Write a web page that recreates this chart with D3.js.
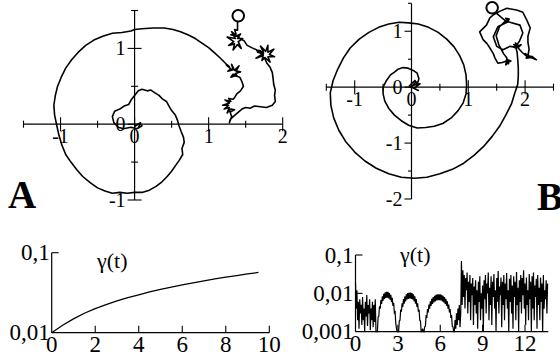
<!DOCTYPE html>
<html>
<head>
<meta charset="utf-8">
<script src="https://cdn.jsdelivr.net/npm/d3@7"></script>
<style>
  body { margin: 0; background: #fff; }
  svg { display: block; }
</style>
</head>
<body>
<svg id="fig" width="560" height="361"></svg>
<script>
// ---- Trajectory A: slow spiral with bursts near the end (x, y) ----
const trajA = [
  [0.00,-0.03],[0.08,0.02],[0.05,-0.05],[0.10,-0.02],[0.03,-0.06],[-0.05,-0.04],[-0.15,-0.06],
  [-0.22,-0.04],[-0.28,0.02],[-0.30,0.10],[-0.27,0.17],[-0.20,0.20],[-0.14,0.24],[-0.08,0.26],
  [-0.04,0.33],[0.00,0.38],[0.05,0.44],[0.10,0.46],[0.17,0.44],[0.22,0.45],[0.28,0.41],[0.33,0.38],
  [0.38,0.33],[0.43,0.30],[0.47,0.23],[0.50,0.18],[0.55,0.12],[0.58,0.05],[0.60,-0.02],[0.63,-0.10],
  [0.66,-0.17],[0.67,-0.24],[0.64,-0.32],[0.65,-0.40],[0.60,-0.48],[0.55,-0.55],[0.50,-0.62],
  [0.44,-0.69],[0.37,-0.76],[0.29,-0.82],[0.20,-0.87],[0.10,-0.90],[0.00,-0.90],[-0.10,-0.91],
  [-0.20,-0.90],[-0.30,-0.91],[-0.40,-0.88],[-0.50,-0.84],[-0.60,-0.77],[-0.70,-0.69],[-0.78,-0.60],
  [-0.86,-0.50],[-0.93,-0.40],[-0.98,-0.28],[-1.02,-0.15],[-1.05,-0.02],[-1.08,0.12],[-1.09,0.25],
  [-1.07,0.38],[-1.04,0.50],[-0.99,0.62],[-0.93,0.74],[-0.85,0.85],[-0.76,0.95],[-0.66,1.04],
  [-0.55,1.11],[-0.43,1.16],[-0.30,1.20],[-0.17,1.21],[-0.05,1.23],[0.00,1.25],[0.10,1.26],
  [0.25,1.27],[0.40,1.27],[0.52,1.25],[0.62,1.22],[0.72,1.18],[0.82,1.13],[0.91,1.07],[1.00,1.01],
  [1.08,0.94],[1.16,0.87],[1.23,0.80],
  [1.28,0.76],[1.24,0.78],[1.30,0.73],[1.26,0.70],[1.33,0.72],[1.31,0.79],[1.35,0.71],[1.41,0.77],
  [1.37,0.70],[1.43,0.69],[1.36,0.67],[1.39,0.63],[1.33,0.66],[1.30,0.62],[1.36,0.64],[1.42,0.62],
  [1.45,0.56],[1.47,0.50],[1.43,0.44],[1.38,0.40],[1.35,0.35],
  [1.33,0.33],[1.27,0.34],[1.30,0.30],[1.22,0.32],[1.28,0.28],[1.19,0.25],[1.27,0.25],[1.21,0.20],
  [1.28,0.22],[1.25,0.15],[1.30,0.20],[1.35,0.19],[1.29,0.16],[1.31,0.10],[1.28,0.02],[1.29,0.06],
  [1.33,0.10],[1.39,0.15],[1.45,0.20],[1.50,0.22],[1.56,0.21],[1.62,0.24],[1.70,0.23],[1.78,0.22],
  [1.86,0.25],[1.90,0.30],[1.89,0.38],[1.90,0.45],[1.88,0.52],[1.87,0.60],[1.86,0.68],[1.83,0.75],
  [1.79,0.80],[1.76,0.86],
  [1.72,0.90],[1.64,0.87],[1.72,0.92],[1.65,0.97],[1.74,0.95],[1.70,1.03],[1.77,0.96],[1.80,1.04],
  [1.80,0.95],[1.88,0.99],[1.82,0.92],[1.89,0.89],[1.80,0.89],[1.83,0.82],[1.76,0.88],[1.72,0.84],
  [1.74,0.93],[1.66,0.95],[1.70,0.97],
  [1.65,0.98],[1.58,1.01],[1.52,1.04],[1.48,1.10],[1.44,1.12],
  [1.40,1.15],[1.31,1.22],[1.36,1.13],[1.25,1.15],[1.34,1.09],[1.27,1.04],[1.35,1.06],[1.33,0.98],
  [1.39,1.05],[1.44,1.00],[1.40,1.09],[1.46,1.13],[1.39,1.13],[1.43,1.19],[1.37,1.16],[1.30,1.18],
  [1.37,1.19],[1.35,1.25],[1.39,1.24],[1.39,1.30],[1.39,1.36]
];
const endA = [1.40, 1.43];

// ---- Trajectory B: two-turn spiral ending in a tangle (x, y) ----
const trajB = [
  [0.00,0.00],[0.08,0.10],[0.02,0.03],[0.15,0.06],[0.04,-0.02],[0.12,-0.06],[-0.04,0.02],
  [0.06,0.12],[0.10,0.05],[0.13,0.15],[0.10,0.25],[0.03,0.30],[-0.06,0.34],[-0.15,0.35],
  [-0.24,0.32],[-0.30,0.27],[-0.37,0.22],[-0.44,0.12],[-0.50,0.00],[-0.50,-0.12],[-0.47,-0.25],
  [-0.40,-0.38],[-0.30,-0.50],[-0.18,-0.60],[-0.05,-0.68],[0.10,-0.73],[0.25,-0.72],[0.40,-0.70],
  [0.55,-0.65],[0.70,-0.55],[0.82,-0.42],[0.91,-0.28],[0.96,-0.12],[0.97,0.05],[0.96,0.22],
  [0.92,0.40],[0.85,0.56],[0.75,0.72],[0.62,0.86],[0.47,0.98],[0.30,1.07],[0.12,1.13],[-0.05,1.15],
  [-0.22,1.16],[-0.40,1.13],[-0.58,1.07],[-0.75,0.98],[-0.92,0.86],[-1.08,0.70],[-1.20,0.52],
  [-1.30,0.32],[-1.38,0.12],[-1.43,-0.10],[-1.42,-0.32],[-1.37,-0.55],[-1.28,-0.77],[-1.16,-0.97],
  [-1.00,-1.16],[-0.82,-1.32],[-0.62,-1.45],[-0.40,-1.55],[-0.18,-1.61],[0.05,-1.63],[0.27,-1.61],
  [0.50,-1.55],[0.72,-1.47],[0.92,-1.36],[1.10,-1.22],[1.27,-1.06],[1.42,-0.88],[1.55,-0.70],
  [1.66,-0.50],[1.76,-0.30],[1.82,-0.10],[1.87,0.05],[1.88,0.20],[1.88,0.35],[1.87,0.50],[1.86,0.62],
  [1.84,0.70],[1.79,0.72],[1.86,0.73],[1.83,0.79],[1.88,0.74],[1.93,0.76],[1.88,0.71],
  [1.73,0.73],[1.61,0.67],[1.50,0.73],[1.44,0.90],[1.52,1.08],[1.70,1.17],[1.91,1.11],[1.96,0.97],
  [1.90,0.82],[1.85,0.75],[1.80,0.76],[1.87,0.71],
  [1.95,0.62],[2.03,0.55],[2.00,0.60],[2.06,0.57],[2.02,0.52],[2.10,0.53],[2.20,0.49],[2.12,0.55],
  [2.05,0.56],[2.07,0.68],[2.05,0.80],[2.05,0.91],[2.09,1.06],[2.03,1.20],[1.96,1.34],[1.85,1.38],
  [1.68,1.41],[1.56,1.36],[1.45,1.30],[1.38,1.24],[1.32,1.11],[1.20,0.99],[1.26,0.85],[1.33,0.78],
  [1.38,0.70],[1.44,0.60],[1.47,0.52],[1.52,0.43],[1.60,0.44],
  [1.67,0.47],[1.71,0.42],[1.69,0.49],[1.75,0.47],[1.70,0.44],[1.66,0.40],[1.68,0.52],
  [1.62,0.60],[1.54,0.75],[1.49,0.92],[1.55,1.08],[1.64,1.17],
  [1.70,1.19],[1.66,1.23],[1.72,1.22],[1.68,1.16],[1.63,1.21],[1.58,1.25],[1.52,1.30],[1.47,1.36]
];
const endB = [1.42, 1.42];

// ---- gamma(t), left inset ----
const tLeft = [0,0.5,1,1.5,2,2.5,3,3.5,4,4.5,5,5.5,6,6.5,7,7.5,8,8.5,9,9.5];
const gammaLeft = [0.0100,0.0124,0.0149,0.0175,0.0200,0.0224,0.0250,0.0274,0.0298,0.0323,
                   0.0347,0.0372,0.0396,0.0420,0.0445,0.0470,0.0494,0.0518,0.0543,0.0566];

// ---- gamma(t), right inset: one sample every 0.05 from t = 0 to 13.6 ----
const dtRight = 0.05;
const gammaRight = [
  // t = 0 .. 1.45
  0.019,0.004,0.012,0.002,0.006,0.0012,0.007,0.003,0.005,0.0015,
  0.008,0.002,0.004,0.001,0.006,0.0025,0.009,0.0014,0.005,0.003,
  0.007,0.0011,0.004,0.002,0.006,0.0013,0.005,0.0018,0.007,0.001,
  // t = 1.5 .. 2.95
  0.001,0.0008,0.0024,0.0025,0.0046,0.0040,0.0067,0.0053,0.0084,0.0064,
  0.0097,0.0071,0.0106,0.0076,0.0110,0.0077,0.0109,0.0074,0.0102,0.0068,
  0.0091,0.0059,0.0076,0.0047,0.0057,0.0032,0.0035,0.0017,0.0012,0.001,
  // t = 3.0 .. 4.75
  0.001,0.0008,0.0019,0.0020,0.0038,0.0033,0.0055,0.0044,0.0071,0.0054,
  0.0084,0.0062,0.0094,0.0069,0.0101,0.0072,0.0105,0.0074,0.0105,0.0072,
  0.0101,0.0069,0.0094,0.0062,0.0084,0.0054,0.0071,0.0044,0.0055,0.0033,
  0.0038,0.0020,0.0019,0.0008,0.001,0.0012,
  // t = 4.8 .. 7.0
  0.001,0.0009,0.00135,0.0014,0.0027,0.0023,0.0039,0.0032,0.0051,0.0040,
  0.0062,0.0047,0.0072,0.0053,0.0080,0.0058,0.0086,0.0062,0.0091,0.0065,
  0.0094,0.0066,0.0095,0.0066,0.0094,0.0065,0.0091,0.0062,0.0086,0.0058,
  0.0080,0.0053,0.0072,0.0047,0.0062,0.0040,0.0051,0.0032,0.0039,0.0023,
  0.0027,0.0014,0.00135,0.0009,0.001,
  // t = 7.05 .. 7.5
  0.002,0.0012,0.003,0.0015,0.004,0.002,0.005,0.0013,0.003,0.07,
  // t = 7.55 .. 13.6
  0.005,0.04,0.008,0.03,0.004,0.025,0.012,0.035,0.003,0.02,
  0.006,0.03,0.002,0.018,0.009,0.025,0.0015,0.015,0.005,0.022,
  0.003,0.012,0.0012,0.02,0.006,0.028,0.002,0.01,0.004,0.016,
  0.001,0.022,0.007,0.03,0.003,0.018,0.01,0.035,0.002,0.014,
  0.005,0.028,0.0015,0.02,0.008,0.032,0.004,0.012,0.001,0.025,
  0.006,0.038,0.003,0.015,0.009,0.026,0.0013,0.02,0.005,0.03,
  0.002,0.018,0.007,0.034,0.004,0.012,0.001,0.024,0.006,0.03,
  0.003,0.016,0.0012,0.028,0.008,0.02,0.002,0.036,0.005,0.014,
  0.001,0.022,0.006,0.03,0.003,0.025,0.009,0.04,0.004,0.018,
  0.0015,0.026,0.005,0.012,0.002,0.032,0.007,0.02,0.001,0.028,
  0.004,0.035,0.002,0.016,0.008,0.024,0.0012,0.03,0.005,0.014,
  0.002,0.026,0.006,0.018,0.001,0.03,0.004,0.012,0.007,0.022,
  0.003,0.018
];

// ---- tick values and labels ----
const ticksAx = [-1.5,-1,-0.5,0,0.5,1,1.5,2];
const ticksAy = [-1,-0.5,0,0.5,1,1.5];
const labelsAx = [-1,0,1,2];
const labelsAy = [1,0,-1];
const ticksBx = [-1.5,-1,-0.5,0,0.5,1,1.5,2,2.5];
const ticksBy = [-2,-1.5,-1,-0.5,0,0.5,1,1.5];
const labelsBx = [-1,0,1,2];
const labelsBy = [1,0,-1,-2];
const ticksLx = [2,4,6,8,10];
const ticksLy = [0.1];
const labelsLx = [0,2,4,6,8,10];
const labelsLy = [[0.1,"0,1"],[0.01,"0,01"]];
const ticksRx = [3,6,9,12];
const ticksRy = [0.1,0.01];
const labelsRx = [0,3,6,9,12];
const labelsRy = [[0.1,"0,1"],[0.01,"0,01"],[0.001,"0,001"]];

const svg = d3.select("#fig");
const ink = "#000";
const serif = "'Liberation Serif', 'Times New Roman', Times, serif";

// ---------- scales ----------
const xA = d3.scaleLinear().domain([-1.5, 2]).range([23.5, 282.7]);
const yA = d3.scaleLinear().domain([-1, 1.5]).range([200, 10.5]);
const xB = d3.scaleLinear().domain([-1.5, 2.5]).range([326.3, 553.5]);
const yB = d3.scaleLinear().domain([-2, 1.5]).range([199, 3.3]);
const xL = d3.scaleLinear().domain([0, 10]).range([51.7, 269.3]);
const yL = d3.scaleLog().domain([0.01, 0.1]).range([332.7, 252.7]).clamp(true);
const xR = d3.scaleLinear().domain([0, 12]).range([355.5, 525]);
const yR = d3.scaleLog().domain([0.001, 0.1]).range([331.7, 255]).clamp(true);

function fmt(d) { return d < 0 ? "-" + Math.abs(d) : String(d); }

// ---------- cross-shaped phase-plane axes ----------
function crossAxes(g, x, y, o) {
  const x0 = x(0), y0 = y(0);
  g.append("line").attr("x1", x(o.xr[0])).attr("x2", x(o.xr[1]))
    .attr("y1", y0).attr("y2", y0).attr("stroke", ink).attr("stroke-width", 1.2);
  g.append("line").attr("x1", x0).attr("x2", x0)
    .attr("y1", y(o.yr[0])).attr("y2", y(o.yr[1])).attr("stroke", ink).attr("stroke-width", 1.2);
  g.selectAll(null).data(o.tx).join("line")
    .attr("x1", d => x(d)).attr("x2", d => x(d))
    .attr("y1", d => y0 - (Number.isInteger(d) ? 7 : 3.5))
    .attr("y2", d => y0 + (Number.isInteger(d) ? 7 : 3.5))
    .attr("stroke", ink).attr("stroke-width", 1.1);
  g.selectAll(null).data(o.ty).join("line")
    .attr("y1", d => y(d)).attr("y2", d => y(d))
    .attr("x1", d => x0 - (Number.isInteger(d) ? 7 : 3.5))
    .attr("x2", d => x0 + (o.leftOnly ? 0 : (Number.isInteger(d) ? 7 : 3.5)))
    .attr("stroke", ink).attr("stroke-width", 1.1);
  g.selectAll(null).data(o.lx).join("text")
    .attr("font-family", serif)
    .attr("x", d => x(d)).attr("y", y0 + o.fs * 0.95)
    .attr("text-anchor", "middle").attr("font-size", o.fs)
    .text(fmt);
  g.selectAll(null).data(o.ly).join("text")
    .attr("font-family", serif)
    .attr("x", x0 - o.ldx).attr("y", d => y(d) + o.fs * 0.33)
    .attr("text-anchor", "end").attr("font-size", o.fs)
    .text(fmt);
}

function trajectory(g, data, end, x, y) {
  const line = d3.line().x(d => x(d[0])).y(d => y(d[1]));
  g.append("path").attr("d", line(data)).attr("fill", "none")
    .attr("stroke", ink).attr("stroke-width", 1.6).attr("stroke-linejoin", "round");
  g.append("circle").attr("cx", x(end[0])).attr("cy", y(end[1])).attr("r", 5.8)
    .attr("fill", "#fff").attr("stroke", ink).attr("stroke-width", 2);
}

// ---------- panel A ----------
const gA = svg.append("g");
crossAxes(gA, xA, yA, { xr: [-1.5, 2], yr: [-1, 1.5], tx: ticksAx, ty: ticksAy,
  lx: labelsAx, ly: labelsAy, fs: 20, ldx: 9 });
trajectory(gA, trajA, endA, xA, yA);
gA.append("text").attr("font-family", serif).attr("x", 8).attr("y", 208).attr("font-size", 39)
  .attr("font-weight", "bold").text("A");

// ---------- panel B ----------
const gB = svg.append("g");
crossAxes(gB, xB, yB, { xr: [-1.5, 2.5], yr: [-2, 1.5], tx: ticksBx, ty: ticksBy,
  lx: labelsBx, ly: labelsBy, fs: 20, ldx: 9, leftOnly: true });
trajectory(gB, trajB, endB, xB, yB);
gB.append("text").attr("font-family", serif).attr("x", 537).attr("y", 210).attr("font-size", 39)
  .attr("font-weight", "bold").text("B");

// ---------- gamma insets ----------
function inset(g, x, y, o) {
  const xa = x.range()[0], ya = y.range()[0];
  g.append("line").attr("x1", xa).attr("x2", xa).attr("y1", y.range()[0]).attr("y2", y.range()[1])
    .attr("stroke", ink).attr("stroke-width", 1.2);
  g.append("line").attr("x1", xa).attr("x2", x(o.xEnd)).attr("y1", ya).attr("y2", ya)
    .attr("stroke", ink).attr("stroke-width", 1.2);
  g.selectAll(null).data(o.tx).join("line")
    .attr("x1", d => x(d)).attr("x2", d => x(d)).attr("y1", ya).attr("y2", ya - 7)
    .attr("stroke", ink).attr("stroke-width", 1.1);
  g.selectAll(null).data(o.ty).join("line")
    .attr("y1", d => y(d)).attr("y2", d => y(d)).attr("x1", xa).attr("x2", xa + 7)
    .attr("stroke", ink).attr("stroke-width", 1.1);
  g.selectAll(null).data(o.lx).join("text").attr("font-family", serif)
    .attr("x", d => x(d)).attr("y", ya + o.fs * 0.85)
    .attr("text-anchor", "middle").attr("font-size", o.fs).text(d => d);
  g.selectAll(null).data(o.ly).join("text").attr("font-family", serif)
    .attr("x", xa - 2).attr("y", d => y(d[0]) + o.fs * 0.33)
    .attr("text-anchor", "end").attr("font-size", o.fs).text(d => d[1]);
  g.append("text").attr("font-family", serif).attr("x", o.title[0]).attr("y", o.title[1])
    .attr("font-size", 22).text("\u03b3(t)");
}

const gL = svg.append("g");
inset(gL, xL, yL, { xEnd: 10, tx: ticksLx, ty: ticksLy, lx: labelsLx, ly: labelsLy,
  fs: 23, title: [97, 268] });
gL.append("path")
  .attr("d", d3.line().x((d, i) => xL(tLeft[i])).y(d => yL(d))(gammaLeft))
  .attr("fill", "none").attr("stroke", ink).attr("stroke-width", 1.3);

const gR = svg.append("g");
inset(gR, xR, yR, { xEnd: 13.65, tx: ticksRx, ty: ticksRy, lx: labelsRx, ly: labelsRy,
  fs: 23, title: [400, 262] });
gR.append("path")
  .attr("d", d3.line().x((d, i) => xR(i * dtRight)).y(d => yR(d))(gammaRight))
  .attr("fill", "none").attr("stroke", ink).attr("stroke-width", 1.2).attr("stroke-linejoin", "miter");
</script>
</body>
</html>
